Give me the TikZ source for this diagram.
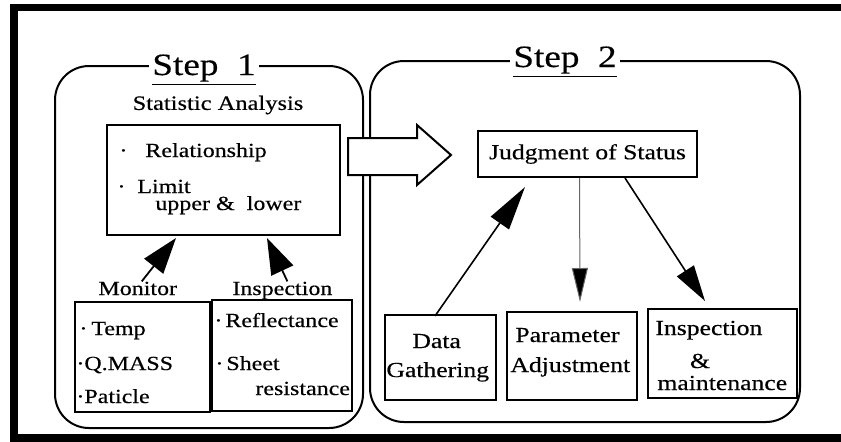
\documentclass[tikz,border=0pt]{standalone}
\usepackage{fontspec}
\setmainfont{Liberation Serif}[FakeStretch=1.2,FakeBold=0.4]
\usetikzlibrary{arrows.meta,calc}
\begin{document}
\begin{tikzpicture}[x=0.5pt,y=-0.5pt,
  box/.style={draw, line width=1pt, inner sep=0pt},
  stepbox/.style={draw, line width=1pt, rounded corners=17pt, inner sep=0pt},
  txt/.style={inner sep=0pt, anchor=base west, font=\fontsize{10}{12}\selectfont},
  txtb/.style={inner sep=0pt, anchor=base west, font=\fontsize{10.7}{13}\selectfont},
  steptitle/.style={fill=white, inner xsep=1.5pt, inner ysep=1pt, anchor=base, font=\fontsize{15.5}{18}\selectfont},
  conn/.style={line width=0.9pt, -{Triangle[length=18pt,width=12pt]}},
  hollow/.style={draw, line width=1pt, fill=white, line join=miter}
]
\useasboundingbox (0,0) rectangle (841,441);
% outer frame
\draw[line width=3.75pt] (850,7.5) -- (14,7.5) -- (14,438) -- (850,438);

% step containers
\node[stepbox, minimum width=154pt, minimum height=181pt] (s1) at (209,247) {};
\node[stepbox, minimum width=215pt, minimum height=180.5pt] (s2) at (585,241.5) {};
\node[steptitle] (t1) at (204,75) {\underline{Step\ \ 1}};
\node[steptitle] (t2) at (565,67) {\underline{Step\ \ 2}};

% hollow arrow between the steps
\draw[hollow] (348,138) -- (417,138) -- (417,125) -- (451,155) -- (417,185) -- (417,175) -- (348,175) -- cycle;

% Step 1 content
\node[inner sep=0pt, font=\fontsize{10.2}{12}\selectfont] (sa) at (218,105) {Statistic Analysis};
\node[box, minimum width=116.5pt, minimum height=55pt] (rel) at (223.5,180) {};
\node[txt] (r1) at (119,157) {·\hspace{9pt}Relationship};
\node[txt] (r2) at (117,193) {·\hspace{6pt}Limit};
\node[txt] (r3) at (155,210) {upper \&\ \ lower};

\node[txt] (monlbl) at (98,295) {Monitor};
\node[txt] (insplbl) at (232,295) {Inspection};

\node[box, minimum width=67.5pt, minimum height=55pt] (mon) at (142.5,357) {};
\node[box, minimum width=70pt, minimum height=55.5pt] (insp) at (282,355.5) {};

\node[txt] (m1) at (79,335) {·\hspace{2pt}Temp};
\node[txt] (m2) at (76,370) {·Q.MASS};
\node[txt] (m3) at (76,403) {·Paticle};
\node[txt] (i1) at (214,327) {·\hspace{1.5pt}Reflectance};
\node[txt] (i2) at (215,370) {·\hspace{1.5pt}Sheet};
\node[txt] (i3) at (255,395) {resistance};

\draw[conn] ($(monlbl.north)+(4,0)$) -- ($(rel.south west)+(70,2)$);
\draw[conn] ($(insplbl.north)+(5,0)$) -- ($(rel.south west)+(161,2)$);

% Step 2 content
\node[box, minimum width=109.5pt, minimum height=23pt, font=\fontsize{10.7}{13}\selectfont] (judg) at (587.5,154) {Judgment of Status};

\node[box, minimum width=55.5pt, minimum height=42.5pt] (dg) at (440.5,357.5) {};
\node[box, minimum width=65pt, minimum height=44pt] (pa) at (572,356) {};
\node[box, minimum width=74.5pt, minimum height=44.5pt] (im) at (722.5,353.5) {};

\node[txtb] (d1) at (412,348) {Data};
\node[txtb] (d2) at (386,377) {Gathering};
\node[txtb] (p1) at (515,342) {Parameter};
\node[txtb] (p2) at (510,372) {Adjustment};
\node[txtb] (q1) at (655,335) {Inspection};
\node[txtb, anchor=base] (q2) at (700,368) {\&};
\node[txtb] (q3) at (657,390) {maintenance};

\draw[line width=0.8pt, -{Triangle[length=22pt,width=11pt]}] ($(dg.north)+(-5.5,2)$) -- ($(judg.south)+(-62.5,9)$);
\draw[line width=0.5pt, draw=black!60, -{Triangle[length=17pt,width=8pt,fill=black]}] ($(judg.south)+(-8,0)$) -- ($(pa.north)+(8,-9)$);
\draw[line width=0.8pt, -{Triangle[length=18pt,width=10pt]}] ($(judg.south)+(37.5,0)$) -- ($(im.north)+(-17.5,-7)$);
\end{tikzpicture}
\end{document}
